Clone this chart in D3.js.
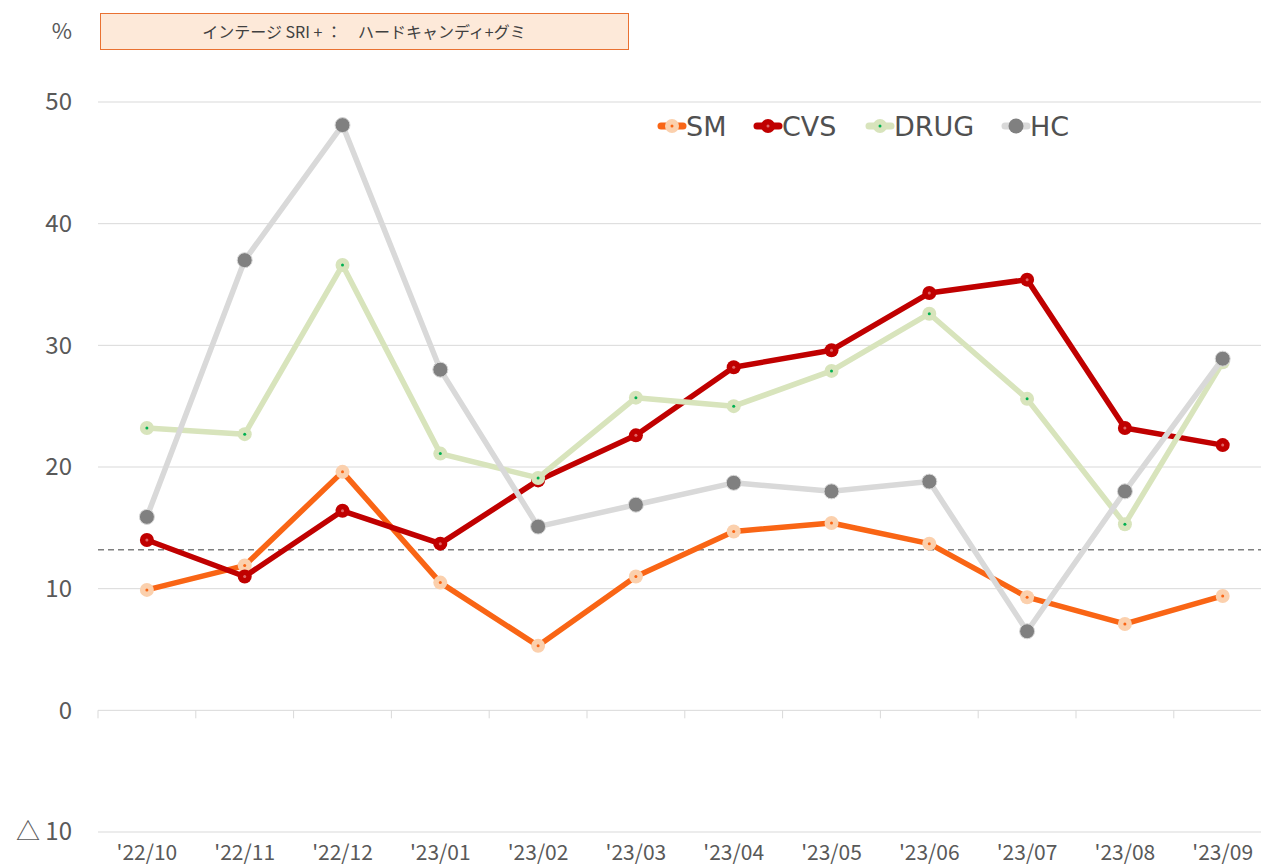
<!DOCTYPE html>
<html>
<head>
<meta charset="utf-8">
<script src="https://cdn.jsdelivr.net/npm/d3@7"></script>
<style>
  body { margin: 0; background: #fff; }
  svg { display: block; font-family: "Noto Sans CJK JP", "Noto Sans", sans-serif; }
</style>
</head>
<body>
<script>
// data
var months = ["'22/10", "'22/11", "'22/12", "'23/01", "'23/02", "'23/03",
              "'23/04", "'23/05", "'23/06", "'23/07", "'23/08", "'23/09"];
var sm   = [9.9, 11.9, 19.6, 10.5, 5.3, 11.0, 14.7, 15.4, 13.7, 9.3, 7.1, 9.4];
var cvs  = [14.0, 11.0, 16.4, 13.7, 18.9, 22.6, 28.2, 29.6, 34.3, 35.4, 23.2, 21.8];
var drug = [23.2, 22.7, 36.6, 21.1, 19.1, 25.7, 25.0, 27.9, 32.6, 25.6, 15.3, 28.6];
var hc   = [15.9, 37.0, 48.1, 28.0, 15.1, 16.9, 18.7, 18.0, 18.8, 6.5, 18.0, 28.9];
var seriesNames = ["SM", "CVS", "DRUG", "HC"];
var avgLine = 13.2;
var yTicks = [-10, 0, 10, 20, 30, 40, 50];
var title = "インテージ SRI + ：　ハードキャンディ+グミ";

var width = 1261, height = 868;
var margin = {top: 102, left: 98, bottom: 36};
var plotRight = 98 + 12 * 97.8;

var svg = d3.select("body").append("svg")
    .attr("width", width)
    .attr("height", height);

var x = d3.scaleBand()
    .domain(months)
    .range([margin.left, plotRight]);

var y = d3.scaleLinear()
    .domain([-10, 50])
    .range([height - margin.bottom, margin.top]);

// gridlines
svg.append("g")
   .selectAll("line")
   .data(yTicks)
   .enter().append("line")
   .attr("x1", margin.left)
   .attr("x2", plotRight)
   .attr("y1", function(d) { return y(d); })
   .attr("y2", function(d) { return y(d); })
   .attr("stroke", "#d9d9d9")
   .attr("stroke-width", 1);

// category ticks on the zero line
svg.append("g")
   .selectAll("line")
   .data(months)
   .enter().append("line")
   .attr("x1", function(d) { return x(d); })
   .attr("x2", function(d) { return x(d); })
   .attr("y1", y(0))
   .attr("y2", y(0) + 8)
   .attr("stroke", "#d9d9d9");

// y labels
svg.append("g")
   .selectAll("text")
   .data(yTicks)
   .enter().append("text")
   .attr("x", 72)
   .attr("y", function(d) { return y(d); })
   .attr("dy", "0.35em")
   .attr("text-anchor", "end")
   .attr("font-size", 24)
   .attr("fill", "#595959")
   .text(function(d) { return d < 0 ? "△ " + (-d) : d; });

svg.append("text")
   .attr("x", 62)
   .attr("y", 31)
   .attr("dy", "0.35em")
   .attr("text-anchor", "middle")
   .attr("font-size", 22)
   .attr("fill", "#595959")
   .text("%");

// x labels
svg.append("g")
   .selectAll("text")
   .data(months)
   .enter().append("text")
   .attr("x", function(d) { return x(d) + x.bandwidth() / 2; })
   .attr("y", 853)
   .attr("dy", "0.35em")
   .attr("text-anchor", "middle")
   .attr("font-size", 21)
   .attr("fill", "#595959")
   .text(function(d) { return d; });

// title box
svg.append("rect")
   .attr("x", 100.5)
   .attr("y", 13.5)
   .attr("width", 528)
   .attr("height", 36)
   .attr("fill", "#fde9d9")
   .attr("stroke", "#e97132")
   .attr("stroke-width", 1);
svg.append("text")
   .attr("x", 364)
   .attr("y", 32)
   .attr("dy", "0.35em")
   .attr("text-anchor", "middle")
   .attr("font-size", 16)
   .attr("fill", "#404040")
   .text(title);

// average dashed line
svg.append("line")
   .attr("x1", margin.left)
   .attr("x2", plotRight)
   .attr("y1", y(avgLine))
   .attr("y2", y(avgLine))
   .attr("stroke", "#7f7f7f")
   .attr("stroke-width", 1.5)
   .attr("stroke-dasharray", "6,4");

var styles = {
  SM:   {values: sm,   line: "#f96515", fill: "#fbd0ad", dot: "#f96515", r: 7},
  CVS:  {values: cvs,  line: "#c00000", fill: "#c00000", dot: "#e06666", r: 7},
  DRUG: {values: drug, line: "#d8e4bc", fill: "#d8e4bc", dot: "#00b050", r: 7},
  HC:   {values: hc,   line: "#d9d9d9", fill: "#808080", dot: null, r: 7.5}
};

var line = d3.line()
    .x(function(d, i) { return x(months[i]) + x.bandwidth() / 2; })
    .y(function(d) { return y(d); });

// draw in order so HC sits on top like the reference
var drawOrder = ["SM", "CVS", "DRUG", "HC"];
drawOrder.forEach(function(name) {
  var s = styles[name];
  var g = svg.append("g");
  g.append("path")
   .datum(s.values)
   .attr("d", line)
   .attr("fill", "none")
   .attr("stroke", s.line)
   .attr("stroke-width", 5.5)
   .attr("stroke-linejoin", "round");
  g.selectAll("circle.m")
   .data(s.values)
   .enter().append("circle")
   .attr("class", "m")
   .attr("cx", function(d, i) { return x(months[i]) + x.bandwidth() / 2; })
   .attr("cy", function(d) { return y(d); })
   .attr("r", s.r)
   .attr("fill", s.fill)
   .attr("stroke", name === "HC" ? "#d9d9d9" : "none")
   .attr("stroke-width", 1);
  if (s.dot) {
    g.selectAll("circle.c")
     .data(s.values)
     .enter().append("circle")
     .attr("class", "c")
     .attr("cx", function(d, i) { return x(months[i]) + x.bandwidth() / 2; })
     .attr("cy", function(d) { return y(d); })
     .attr("r", 1.5)
     .attr("fill", s.dot);
  }
});

// legend
var legendX = [658, 754, 866, 1002];
var legend = svg.append("g");
seriesNames.forEach(function(name, i) {
  var s = styles[name];
  var lg = legend.append("g").attr("transform", "translate(" + legendX[i] + ",126)");
  lg.append("line")
    .attr("x1", 3).attr("x2", 25)
    .attr("stroke", s.line)
    .attr("stroke-width", 7)
    .attr("stroke-linecap", "round");
  lg.append("circle")
    .attr("cx", 14).attr("r", s.r)
    .attr("fill", s.fill);
  if (s.dot) {
    lg.append("circle").attr("cx", 14).attr("r", 1.5).attr("fill", s.dot);
  }
  lg.append("text")
    .attr("x", 28)
    .attr("dy", "0.36em")
    .attr("font-family", "'DejaVu Sans', Verdana, sans-serif")
    .attr("font-size", 27)
    .attr("fill", "#505050")
    .text(name);
});
</script>
</body>
</html>
